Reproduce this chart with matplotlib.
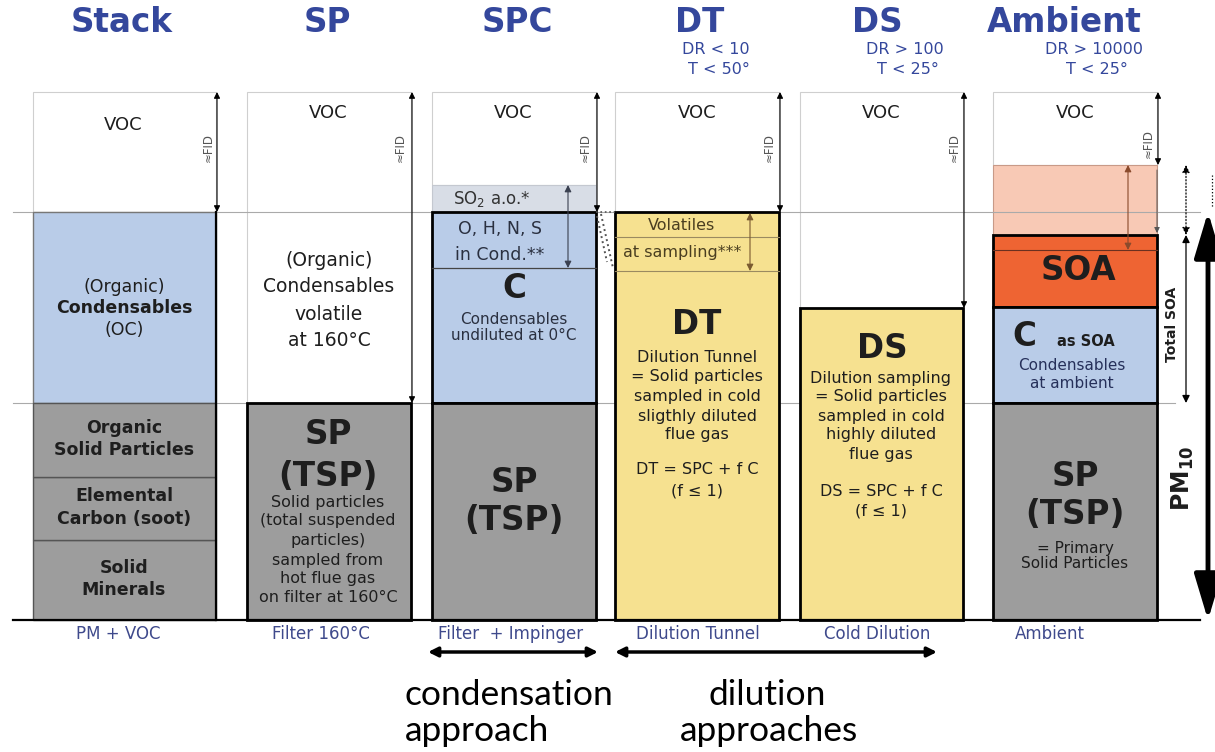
import matplotlib
matplotlib.use("Agg")
import matplotlib.pyplot as plt

plt.rcParams['font.family'] = ['DejaVu Sans']

# --- data: sampling methods and layer boundaries (height above filter baseline) ---
columns = ['Stack', 'SP', 'SPC', 'DT', 'DS', 'Ambient']
methods = ['PM + VOC', 'Filter 160°C', 'Filter  + Impinger', 'Dilution Tunnel', 'Cold Dilution', 'Ambient']
dilution_ratio = ['', '', '', 'DR < 10', 'DR > 100', 'DR > 10000']
temperature = ['', '', '', 'T < 50°', 'T < 25°', 'T < 25°']

voc_top = 528
cond_top = 408
solid_top = 217
stack_solid_splits = [80, 143]
spc_so2_top = 435
spc_ohns_bottom = 352
dt_volatile_lines = [383, 349]
ds_top = 312
amb_voc_bottom = 455
amb_soa_top = 385
amb_soa_line = 370
amb_csoa_top = 313

# --- layout (pixels) ---
col_left = [33, 247, 432, 615, 800, 993]
col_right = [216, 411, 596, 779, 963, 1157]
title_x = [122, 327, 517, 700, 877, 1064]
sub_x = [0, 0, 0, 716, 905, 1094]
method_x = [118, 321, 511, 698, 877, 1050]

BLUE = '#b9cce8'
GRAY = '#9d9d9d'
YELLOW = '#f6e190'
ORANGE = '#ee6433'
SALMON = '#f8c9b5'
SO2C = '#d8dde6'
TITLE = '#34479c'
LABEL = '#3f4a8c'
TXT = '#1e1e1e'
BROWN = '#8a4a2c'


def Y(p):
    # pixel row -> height above baseline
    return 620 - p


fig = plt.figure(figsize=(12.15, 7.52), dpi=100)
ax = fig.add_axes([0, 0, 1, 1])
ax.set_xlim(0, 1215)
ax.set_ylim(-132, 620)
ax.axis('off')


def box(i, bot, top, fc, ec='k', lw=2.0, z=3):
    ax.bar(col_left[i], top - bot, bottom=bot, width=col_right[i] - col_left[i],
           align='edge', color=fc, edgecolor=ec, linewidth=lw, zorder=z)


def arrow(x, y0, y1, color='k', lw=0.9, ls='-', style='<|-|>', ms=9, z=6):
    ax.annotate('', xy=(x, y1), xytext=(x, y0),
                arrowprops=dict(arrowstyle=style, lw=lw, color=color, ls=ls,
                                mutation_scale=ms, shrinkA=0, shrinkB=0), zorder=z)


def lines(x, rows, size, weight='normal', color=TXT, ha='center'):
    for yp, s in rows:
        ax.text(x, Y(yp), s, fontsize=size, fontweight=weight, color=color,
                ha=ha, va='center', zorder=8)


# VOC boxes (white, light outline)
voc_bottoms = [cond_top, solid_top, spc_so2_top, cond_top, ds_top, amb_voc_bottom]
for i in range(6):
    box(i, voc_bottoms[i], voc_top, 'white', ec='#cfcfcf', lw=0.8, z=1)

# grey guide lines
ax.plot([13, 1200], [cond_top, cond_top], color='#aaaaaa', lw=0.8, zorder=2)
ax.plot([13, 1175], [solid_top, solid_top], color='#aaaaaa', lw=0.8, zorder=2)

# Stack
box(0, solid_top, cond_top, BLUE, ec='#777777', lw=1.0)
seg = [0] + stack_solid_splits + [solid_top]
for b, t in zip(seg[:-1], seg[1:]):
    box(0, b, t, GRAY, ec='#555555', lw=1.0)
ax.plot([216, 216], [0, cond_top], color='k', lw=1.6, zorder=4)

# SP
box(1, 0, solid_top, GRAY)

# SPC
box(2, cond_top, spc_so2_top, SO2C, ec='#c4c8d0', lw=0.8, z=2)
box(2, solid_top, cond_top, BLUE)
ax.plot([col_left[2], col_right[2]], [spc_ohns_bottom] * 2, color='#444444', lw=0.9, zorder=4)
box(2, 0, solid_top, GRAY)

# DT
box(3, 0, cond_top, YELLOW)
for v in dt_volatile_lines:
    ax.plot([col_left[3], col_right[3]], [v, v], color='#9a8a60', lw=0.8, zorder=4)

# DS
box(4, 0, ds_top, YELLOW)

# Ambient
box(5, amb_soa_top, amb_voc_bottom, SALMON, ec='#c89a88', lw=0.8, z=1)
box(5, amb_csoa_top, amb_soa_top, ORANGE)
ax.plot([col_left[5], col_right[5]], [amb_soa_line] * 2, color='#6a3020', lw=0.8, zorder=4)
box(5, solid_top, amb_csoa_top, BLUE)
box(5, 0, solid_top, GRAY)

ax.plot([13, 1200], [0, 0], color='k', lw=1.6, zorder=5)

# dotted link SPC -> DT
ax.plot([596, 615], [cond_top, cond_top], color='#555555', lw=1.2, ls=':', zorder=5)
ax.plot([597, 607], [Y(216), Y(262)], color='#555555', lw=1.4, ls=':', zorder=5)
ax.plot([601, 613], [Y(214), Y(268)], color='#555555', lw=1.4, ls=':', zorder=5)

# VOC arrows on the right edge of each column
for i in range(6):
    bottom = voc_bottoms[i] if i != 2 else cond_top
    arrow(col_right[i] + 1, voc_top, bottom, lw=0.8, ms=9)
arrow(col_right[5], amb_voc_bottom - 5, amb_soa_top + 2, color='#555555', lw=0.7, style='-|>', ms=8)

# inner arrows
arrow(568, spc_so2_top, spc_ohns_bottom, color='#3a4050', lw=0.8, ms=10)
arrow(750, cond_top - 1, dt_volatile_lines[1], color='#7a5a30', lw=0.8, ms=10)
arrow(1128, amb_voc_bottom, amb_soa_line, color=BROWN, lw=0.8, ms=10)

# right side arrows
arrow(1186, amb_voc_bottom, amb_soa_top, lw=0.9, ls=':', ms=11)
arrow(1186, amb_soa_top, solid_top, lw=0.9, ms=11)
ax.plot([1212, 1212], [amb_voc_bottom - 10, cond_top + 5], color='k', lw=0.9, ls=':', zorder=5)
arrow(1208, cond_top, 0, lw=3.5, style='<|-|>,head_length=1.4,head_width=0.42', ms=20)

ax.text(1172, Y(324), 'Total SOA', rotation=90, fontsize=10, fontweight='bold',
        color=TXT, ha='center', va='center', zorder=8)
ax.text(1183, Y(478), r'PM$_{\mathbf{10}}$', rotation=90, fontsize=17, fontweight='bold',
        color=TXT, ha='center', va='center', zorder=8)

# titles and conditions
for i, name in enumerate(columns):
    ax.text(title_x[i], Y(32), name, fontsize=23.5, fontweight='heavy', color=TITLE,
            ha='center', va='baseline')
    if dilution_ratio[i]:
        ax.text(sub_x[i], Y(50), dilution_ratio[i], fontsize=11.5, color=TITLE, ha='center', va='center')
        ax.text(sub_x[i] + 3, Y(70), temperature[i], fontsize=11.5, color=TITLE, ha='center', va='center')
    ax.text(method_x[i], Y(634), methods[i], fontsize=12, color=LABEL, ha='center', va='center')

# VOC and ≈FID labels
voc_pos = [(123, 125), (328, 113), (513, 113), (697, 113), (881, 113), (1075, 113)]
fid_pos = [(208, 148), (400, 148), (585, 147), (769, 147), (954, 147), (1148, 144)]
for (vx, vy), (fx, fy) in zip(voc_pos, fid_pos):
    ax.text(vx, Y(vy), 'VOC', fontsize=13, color=TXT, ha='center', va='center', zorder=8)
    ax.text(fx, Y(fy), '≈FID', fontsize=8.5, color='#555555', rotation=90,
            ha='center', va='center', zorder=8)

# Stack texts
lines(124, [(287, '(Organic)'), (330, '(OC)')], 12.5)
lines(124, [(308, 'Condensables')], 12.5, 'bold')
lines(124, [(428, 'Organic'), (450, 'Solid Particles'), (496, 'Elemental'),
            (519, 'Carbon (soot)'), (568, 'Solid'), (590, 'Minerals')], 12.5, 'bold')

# SP texts
lines(329, [(261, '(Organic)'), (287, 'Condensables'), (314, 'volatile'), (341, 'at 160°C')], 13.5)
lines(328, [(434, 'SP'), (476, '(TSP)')], 23.5, 'bold')
lines(328, [(502, 'Solid particles'), (521, '(total suspended'), (541, 'particles)'),
            (560, 'sampled from'), (579, 'hot flue gas'), (598, 'on filter at 160°C')], 11.5)

# SPC texts
ax.text(492, Y(199), 'SO$_2$ a.o.*', fontsize=12, color='#333333', ha='center', va='center', zorder=8)
lines(500, [(229, 'O, H, N, S'), (255, 'in Cond.**')], 12.5, color='#2a3040')
lines(514, [(288, 'C')], 23.5, 'bold')
lines(514, [(320, 'Condensables'), (336, 'undiluted at 0°C')], 11, color='#2a3040')
lines(514, [(483, 'SP'), (521, '(TSP)')], 23.5, 'bold')

# DT texts
lines(682, [(226, 'Volatiles'), (252, 'at sampling***')], 11.5, color='#4a3e20')
lines(697, [(325, 'DT')], 23.5, 'bold')
lines(697, [(358, 'Dilution Tunnel'), (377, '= Solid particles'), (397, 'sampled in cold'),
            (416, 'sligthly diluted'), (435, 'flue gas'), (470, 'DT = SPC + f C'),
            (491, '(f ≤ 1)')], 11.5)

# DS texts
lines(882, [(349, 'DS')], 23.5, 'bold')
lines(881, [(378, 'Dilution sampling'), (397, '= Solid particles'), (416, 'sampled in cold'),
            (435, 'highly diluted'), (454, 'flue gas'), (492, 'DS = SPC + f C'),
            (511, '(f ≤ 1)')], 11.5)

# Ambient texts
lines(1078, [(271, 'SOA')], 23.5, 'bold')
ax.text(1024, Y(346), 'C', fontsize=23.5, fontweight='bold', color=TXT, ha='center', va='baseline', zorder=8)
ax.text(1086, Y(346), 'as SOA', fontsize=10.5, fontweight='bold', color=TXT, ha='center', va='baseline', zorder=8)
lines(1072, [(366, 'Condensables'), (383, 'at ambient')], 11, color='#26305a')
lines(1075, [(477, 'SP'), (515, '(TSP)')], 23.5, 'bold')
lines(1075, [(548, '= Primary'), (563, 'Solid Particles')], 11)

# approach arrows and labels
ax.annotate('', xy=(598, Y(652)), xytext=(428, Y(652)),
            arrowprops=dict(arrowstyle='<|-|>', lw=2.5, color='k', mutation_scale=14, shrinkA=0, shrinkB=0))
ax.annotate('', xy=(937, Y(652)), xytext=(615, Y(652)),
            arrowprops=dict(arrowstyle='<|-|>', lw=2.5, color='k', mutation_scale=14, shrinkA=0, shrinkB=0))
ax.text(405, Y(705), 'condensation', fontsize=25.5, family='Lato', color='k', ha='left', va='baseline')
ax.text(405, Y(741), 'approach', fontsize=25.5, family='Lato', color='k', ha='left', va='baseline')
ax.text(708, Y(705), 'dilution', fontsize=25.5, family='Lato', color='k', ha='left', va='baseline')
ax.text(680, Y(741), 'approaches', fontsize=25.5, family='Lato', color='k', ha='left', va='baseline')

fig.savefig('out.png', dpi=100)
